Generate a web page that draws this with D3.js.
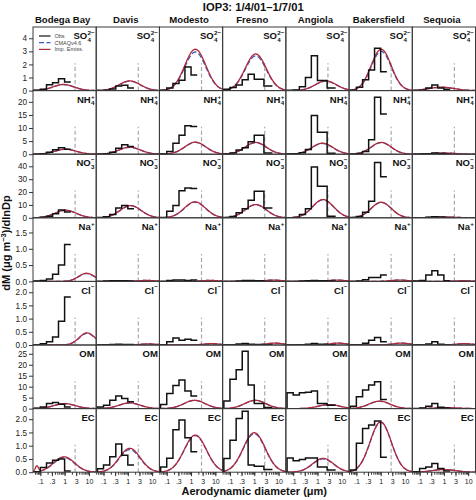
<!DOCTYPE html>
<html><head><meta charset="utf-8">
<script src="https://cdn.jsdelivr.net/npm/d3@7"></script>
<style>body{margin:0;background:#fff} svg{display:block}</style>
</head><body><svg id="c" width="476" height="500"></svg>
<script>
// ---------- data ----------
const title = "IOP3: 1/4/01\u20131/7/01";
const sites = ["Bodega Bay","Davis","Modesto","Fresno","Angiola","Bakersfield","Sequoia"];
const species = ["SO4","NH4","NO3","Na","Cl","OM","EC"];
const speciesMain = ["SO","NH","NO","Na","Cl","OM","EC"];
const speciesSup = ["2\u2212","+","\u2212","+","\u2212","",""];
const speciesSub = ["4","4","3","","","",""];
const yMax = [4.86, 24.3, 49.4, 1.95, 2.41, 29, 2.4];
const yTicks = [[0,1,2,3,4],[0,5,10,15,20],[0,10,20,30,40],[0,0.5,1,1.5],[0,0.5,1,1.5,2],[0,5,10,15,20,25],[0,0.5,1,1.5,2]];
const yTickFmt = ["d","d","d",".1f",".1f","d",".1f"];
const xDomain = [0.05, 20];
const xTickVals = [0.1,0.3,1,3,10];
const xTickLabels = [".1",".3","1","3","10"];
const xMinorVals = [0.06,0.07,0.08,0.09,0.1,0.2,0.3,0.4,0.5,0.6,0.7,0.8,0.9,1,2,3,4,5,6,7,8,9,10,20];
const cutoff = 2.7;
const edgesStd = [0.056,0.1,0.18,0.32,0.56,1.0,1.8];
const edgesAlt = [0.056,0.1,0.18,0.32,0.56,1.0,2.5,5.6];
const siteEdgeSet = ["std","std","std","alt","alt","std","std"];
const legendLabels = ["Obs","CMAQv4.6","Imp. Emiss."];

// observed size distributions (one array per site)
const obsSO4 = [[0.02,0.1,0.45,0.6,0.9,0.65],[0.01,0.03,0.13,0.35,0.4,0.2],[0.02,0.2,0.55,0.8,1.8,1.2],
  [0.1,0.23,0.43,0.82,1.25,0.87,0.36],[0.02,0.05,0.3,1.0,2.67,0.77,0.2],[0.02,0.26,0.82,1.58,3.24,1.45],[0.01,0.03,0.2,0.42,0.2,0.1]];
const obsNH4 = [[0.02,0.2,0.77,1.7,2.5,1.9],[0.02,0.2,0.77,2.3,3.6,2.9],[0.1,1.0,4.2,7.2,10.9,10.6],
  [0.1,0.5,1.65,2.5,4.8,7.2,0.5],[0.05,0.2,0.6,1.8,14.8,8.4,0.4],[0.02,0.3,1.0,5.5,21.8,15.4],[0,0.05,0.2,0.5,0.3,0.1]];
const obsNO3 = [[0.1,0.4,1.3,3.1,6.0,4.6],[0.2,0.8,2.5,7.7,9.5,7.0],[0.3,5,9.5,21,23.2,22.7],
  [0.3,1.0,3.9,7.0,13.6,20.6,7.7],[0.1,0.3,2.5,7.0,39.5,24.5,1.2],[0.2,1.0,4.4,12.9,43,31.8],[0,0.1,0.4,0.8,0.6,0.3]];
const obsNa = [[0.01,0.03,0.07,0.22,0.5,1.13],[0,0.01,0.02,0.02,0.02,0.01],[0,0.03,0.04,0.04,0.03,0.04],
  [0,0,0.01,0.03,0.03,0.02,0],[0,0,0.01,0.02,0.03,0.02,0.01],[0,0.01,0.05,0.12,0.12,0.2],[0.01,0.03,0.2,0.33,0.2,0.02]];
const obsCl = [[0.01,0.05,0.12,0.3,0.9,1.82],[0,0.01,0.02,0.03,0.02,0.02],[0.01,0.12,0.27,0.18,0.22,0.18],
  [0,0.01,0.04,0.06,0.03,0.02,0.01],[0,0,0.01,0.03,0.06,0.03,0.01],[0,0.01,0.07,0.18,0.28,0.12],[0,0.01,0.04,0.12,0.03,0.01]];
const obsOM = [[0.2,0.74,2.3,2.8,2.0,0.74],[0.7,1.5,3.8,5.7,4.6,3.1],[1.85,6.9,10.5,13,8,5.7],
  [3.5,13.4,17.7,26.2,10.8,2.3,0.5],[7.2,6.2,7.2,7.5,8.0,2.3,1.5],[1.1,5.4,8.5,10.8,12.3,4.2],[0.1,0.3,1.1,2.3,0.6,0.3]];
const obsEC = [[0.02,0.18,0.35,0.45,0.5,0.05],[0.13,0.27,0.58,1.06,0.64,0.27],[0.2,0.53,1.6,1.97,1.3,0.77],
  [0.52,1.21,2.03,2.3,0.27,0.22,0.1],[0.54,0.43,0.48,0.54,0.54,0.2,0.08],[0.08,1.09,1.65,1.78,1.93,0.56],[0.02,0.14,0.2,0.33,0.14,0.05]];

// model lognormal modes [peak, geometric mean diameter, ln sigma] per site
const cmaqSO4 = [[[0.45,0.9,1.0]],[[0.72,1.2,1.0]],[[2.95,1.5,1.0]],[[2.65,1.15,1.0]],[[0.72,2.2,1.0]],[[3.0,1.05,0.95]],[[0.25,0.8,1.2]]];
const impSO4  = [[[0.47,0.9,1.0]],[[0.74,1.2,1.0]],[[3.16,1.5,1.0]],[[2.8,1.15,1.0]],[[0.74,2.2,1.0]],[[3.16,1.05,0.95]],[[0.26,0.8,1.2]]];
const cmaqNH4 = [[[1.85,1.1,1.0]],[[2.6,1.2,1.0]],[[4.5,1.5,1.0]],[[4.4,1.15,1.0]],[[4.1,1.6,1.0]],[[4.4,1.05,0.95]],[[0.45,1.0,1.1]]];
const impNH4  = [[[1.9,1.1,1.0]],[[2.7,1.2,1.0]],[[4.6,1.5,1.0]],[[4.5,1.15,1.0]],[[4.2,1.6,1.0]],[[4.5,1.05,0.95]],[[0.46,1.0,1.1]]];
const cmaqNO3 = [[[5.7,1.1,1.0]],[[9.3,1.3,1.0]],[[12.1,1.45,1.0]],[[10.1,1.15,1.0]],[[13.9,1.7,1.0]],[[11.9,1.05,0.95]],[[0.6,1.0,1.1]]];
const impNO3  = [[[5.9,1.1,1.0]],[[9.5,1.3,1.0]],[[12.4,1.45,1.0]],[[10.3,1.15,1.0]],[[14.2,1.7,1.0]],[[12.1,1.05,0.95]],[[0.62,1.0,1.1]]];
const cmaqNa  = [[[0.24,8,0.75]],[[0.03,6,0.8]],[[0.03,6,0.8]],[[0.04,6,0.8]],[[0.04,6,0.8]],[[0.04,6,0.8]],[[0.02,6,0.8]]];
const impNa   = [[[0.25,8,0.75]],[[0.03,6,0.8]],[[0.03,6,0.8]],[[0.04,6,0.8]],[[0.04,6,0.8]],[[0.04,6,0.8]],[[0.02,6,0.8]]];
const cmaqCl  = [[[0.44,8.4,0.75]],[[0.04,7,0.8]],[[0.05,7,0.8]],[[0.07,7,0.8]],[[0.07,7,0.8]],[[0.07,7,0.8]],[[0.05,7,0.8]]];
const impCl   = [[[0.46,8.4,0.75]],[[0.04,7,0.8]],[[0.05,7,0.8]],[[0.07,7,0.8]],[[0.07,7,0.8]],[[0.07,7,0.8]],[[0.05,7,0.8]]];
const cmaqOM  = [[[2.2,1.0,1.0]],[[2.5,1.2,1.0]],[[3.7,1.4,1.0]],[[3.7,1.1,1.0]],[[1.8,3.0,1.0]],[[3.3,0.9,1.0]],[[0.4,1.2,1.1]]];
const impOM   = [[[2.3,1.0,1.0]],[[2.6,1.2,1.0]],[[3.8,1.4,1.0]],[[3.8,1.1,1.0]],[[1.85,3.0,1.0]],[[3.4,0.9,1.0]],[[0.42,1.2,1.1]]];
const cmaqEC  = [[[0.55,0.95,1.0]],[[0.85,1.2,1.0]],[[1.38,1.5,1.05]],[[1.45,1.0,1.05]],[[0.5,1.7,1.0]],[[1.88,1.0,1.0]],[[0.1,1.0,1.1]]];
const impEC   = [[[0.58,0.95,1.0],[0.22,0.072,0.15]],[[0.9,1.2,1.0]],[[1.4,1.5,1.05]],[[1.49,1.0,1.05]],[[0.52,1.7,1.0]],[[1.9,1.0,1.0]],[[0.1,1.0,1.1]]];

const obsRows = [obsSO4,obsNH4,obsNO3,obsNa,obsCl,obsOM,obsEC];
const cmaqRows = [cmaqSO4,cmaqNH4,cmaqNO3,cmaqNa,cmaqCl,cmaqOM,cmaqEC];
const impRows = [impSO4,impNH4,impNO3,impNa,impCl,impOM,impEC];

// ---------- drawing ----------
const L=33, R=475.5, T=27, B=472.2;
const pw=(R-L)/7, ph=(B-T)/7;
const FONT='"Liberation Sans", Arial, Helvetica, sans-serif';
const RED="#b02a3a", BLUE="#3c5bbf";
const svg=d3.select("#c").style("font-family",FONT);
const x = d3.scaleLog().domain(xDomain).range([0,pw]);
const defs = svg.append("defs");
defs.append("clipPath").attr("id","pclip").append("rect").attr("x",0).attr("y",0).attr("width",pw).attr("height",ph);

const sampleD = d3.range(0,241).map(k=>Math.exp(Math.log(xDomain[0])+k/240*(Math.log(xDomain[1])-Math.log(xDomain[0]))));
function modeCurve(modes){
  return sampleD.map(d=>[d, d3.sum(modes, m=>m[0]*Math.exp(-Math.pow(Math.log(d/m[1]),2)/(2*m[2]*m[2])))]);
}

species.forEach((sp,i)=>{
  const y = d3.scaleLinear().domain([0,yMax[i]]).range([ph,0]);
  const line = d3.line().x(d=>x(d[0])).y(d=>y(d[1]));
  sites.forEach((site,j)=>{
    const g = svg.append("g").attr("transform",`translate(${L+j*pw},${T+i*ph})`);
    const inner = g.append("g").attr("clip-path","url(#pclip)");
    inner.append("line").attr("x1",x(cutoff)).attr("x2",x(cutoff)).attr("y1",ph).attr("y2",ph*0.57)
      .attr("stroke","#a8a8a8").attr("stroke-width",1.2).attr("stroke-dasharray","4,2.5");
    inner.append("path").attr("d",line(modeCurve(cmaqRows[i][j]))).attr("fill","none")
      .attr("stroke",BLUE).attr("stroke-width",1.3).attr("stroke-dasharray","5,2.5");
    inner.append("path").attr("d",line(modeCurve(impRows[i][j]))).attr("fill","none")
      .attr("stroke",RED).attr("stroke-width",1.3);
    const edges = siteEdgeSet[j]==="alt"?edgesAlt:edgesStd;
    const vals = obsRows[i][j];
    const pts=[[edges[0],0]];
    vals.forEach((v,k)=>{pts.push([edges[k],v]); pts.push([edges[k+1],v]);});
    inner.append("path").attr("d",line(pts)).attr("fill","none").attr("stroke","#111").attr("stroke-width",1.5);
    g.append("rect").attr("width",pw).attr("height",ph).attr("fill","none").attr("stroke","#3a3a3a").attr("stroke-width",1);
    const baseY=12.3, rightX=pw-1.6;
    const lab = g.append("g").attr("font-weight","bold").attr("fill","#111");
    let sw=0;
    if(speciesSup[i]){
      const t=lab.append("text").attr("font-size",6.2).attr("y",baseY-4.2).text(speciesSup[i]);
      sw=Math.max(sw,t.node().getComputedTextLength());
    }
    if(speciesSub[i]){
      const t=lab.append("text").attr("font-size",6.2).attr("y",baseY+2.2).text(speciesSub[i]);
      sw=Math.max(sw,t.node().getComputedTextLength());
    }
    lab.selectAll("text").attr("x",rightX-sw);
    lab.append("text").attr("font-size",9.5).attr("x",rightX-sw-(sw?0.3:0)).attr("y",baseY).attr("text-anchor","end").text(speciesMain[i]);

    if(j===0){
      const ax = g.append("g").call(d3.axisLeft(y).tickValues(yTicks[i]).tickFormat(d3.format(yTickFmt[i])).tickSize(4).tickPadding(2));
      ax.select(".domain").remove();
      ax.selectAll("line").attr("stroke","#333");
      ax.selectAll("text").attr("font-size",8.2).attr("fill","#222").style("font-family",FONT);
    }
    if(i===species.length-1){
      const axm = g.append("g").attr("transform",`translate(0,${ph})`).call(d3.axisBottom(x).tickValues(xMinorVals).tickFormat("").tickSize(2.5));
      axm.select(".domain").remove(); axm.selectAll("line").attr("stroke","#333");
      const ax = g.append("g").attr("transform",`translate(0,${ph})`)
        .call(d3.axisBottom(x).tickValues(xTickVals).tickFormat((d,k)=>xTickLabels[k]).tickSize(4).tickPadding(3));
      ax.select(".domain").remove(); ax.selectAll("line").attr("stroke","#333");
      ax.selectAll("text").attr("font-size",7).attr("fill","#222").style("font-family",FONT);
    }
    if(i===0){
      svg.append("text").attr("x",L+j*pw+pw/2-2).attr("y",T-4).attr("text-anchor","middle")
        .attr("font-size",9.6).attr("font-weight","bold").attr("fill","#111").text(site);
    }
    if(i===0 && j===0){
      const lg = g.append("g");
      const rows=[36-T,42.7-T,49.4-T];
      const styles=[{c:"#111",d:null},{c:BLUE,d:"5,2.5"},{c:RED,d:null}];
      legendLabels.forEach((lbl,k)=>{
        lg.append("line").attr("x1",6).attr("x2",17.5).attr("y1",rows[k]).attr("y2",rows[k])
          .attr("stroke",styles[k].c).attr("stroke-width",1.2).attr("stroke-dasharray",styles[k].d);
        lg.append("text").attr("x",21.5).attr("y",rows[k]+1.8).attr("font-size",5.5).attr("fill","#444").text(lbl);
      });
    }
  });
});

svg.append("text").attr("x",(L+R)/2-1).attr("y",11).attr("text-anchor","middle")
  .attr("font-size",11.2).attr("font-weight","bold").attr("fill","#111").text(title);
svg.append("text").attr("x",(L+R)/2).attr("y",495).attr("text-anchor","middle")
  .attr("font-size",11).attr("font-weight","bold").attr("fill","#111").text("Aerodynamic diameter (\u03bcm)");
const yl = svg.append("text").attr("transform","translate(10,243) rotate(-90)").attr("text-anchor","middle")
  .attr("font-size",11).attr("font-weight","bold").attr("fill","#111");
yl.append("tspan").text("dM (\u03bcg m");
yl.append("tspan").attr("font-size",7.5).attr("dy",-4).text("\u22123");
yl.append("tspan").attr("dy",4).text(")/dlnDp");
</script></body></html>
